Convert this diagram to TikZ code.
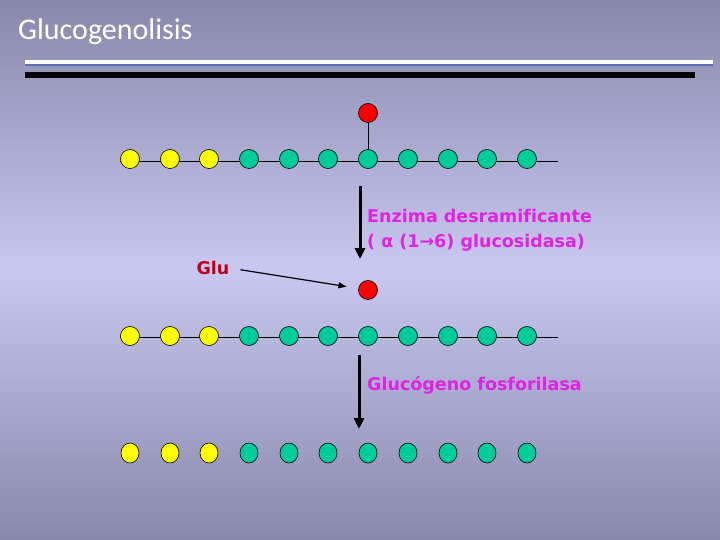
\documentclass[tikz,border=0pt]{standalone}
\usepackage{fontspec}
\setmainfont[Ligatures=NoCommon]{DejaVu Sans}
\newfontfamily\titlefont{Carlito}
\usepackage{tikz}
\usetikzlibrary{arrows.meta,positioning,calc,shapes.geometric}
\definecolor{bgtop}{RGB}{136,136,172}
\definecolor{bgmid}{RGB}{200,200,240}
\definecolor{glyellow}{RGB}{255,255,0}
\definecolor{glgreen}{RGB}{0,204,153}
\definecolor{glred}{RGB}{255,0,0}
\definecolor{enzmag}{RGB}{226,34,226}
\definecolor{gludark}{RGB}{190,0,30}
\definecolor{rulblue}{RGB}{96,112,176}

\begin{document}
\begin{tikzpicture}[
  x=1pt, y=-1pt,
  glc/.style={circle, draw=black, line width=0.6pt, minimum size=19pt, inner sep=0pt},
  enz/.style={text=enzmag, font=\bfseries\fontsize{17.5}{25}\selectfont, align=left, anchor=west, inner sep=0pt},
  bigarrow/.style={-{Triangle[width=10pt,length=11pt]}, line width=3pt}
]
\useasboundingbox (0,0) rectangle (720,540);
% background
\shade[top color=bgtop, bottom color=bgmid] (0,0) rectangle (720,270);
\shade[top color=bgmid, bottom color=bgtop] (0,270) rectangle (720,540);
% title and rules
\node[anchor=base west, text=white, font=\titlefont\fontsize{30}{33}\selectfont, inner sep=0pt] (title) at (18,40) {Glucogenolisis};
\fill[white] (25,60) rectangle (713,64);
\fill[rulblue] (25,64) rectangle (713,66.5);
\fill[black] (25,72) rectangle (695,78);
% chains
\coordinate (a0) at (120,161); \coordinate (aend) at (558,161);
\coordinate (b0) at (120,337); \coordinate (bend) at (558,337);
\draw[line width=0.8pt] (a0) -- (aend);
\draw[line width=0.8pt] (b0) -- (bend);
\foreach \i/\x in {1/130,2/170,3/209,4/249,5/289,6/328,7/368,8/408,9/448,10/487,11/527} {
  \ifnum\i<4 \def\col{glyellow}\else\def\col{glgreen}\fi
  \node[glc, fill=\col] (a\i) at (\x,159) {};
  \node[glc, fill=\col] (b\i) at (\x,336) {};
  \node[glc, ellipse, fill=\col, minimum height=20pt, minimum width=18pt] (c\i) at (\x,453) {};
}
% branch
\node[glc, fill=glred] (r1) at (368,113) {};
\draw[line width=0.8pt] (r1) -- (a7);
\node[glc, fill=glred] (r2) at (368,290) {};
% debranching step
\coordinate (s1) at (360,186); \coordinate (e1) at (360,259);
\draw[bigarrow] (s1) -- (e1);
\node[enz] (debr) at (367,230) {Enzima desramificante\\( α (1→6) glucosidasa)};
\node[text=gludark, font=\bfseries\fontsize{17.5}{20}\selectfont, inner sep=0pt] (glu) at (213,268) {Glu};
\draw[-{Triangle[width=6pt,length=8pt]}, line width=1.2pt, shorten <=11pt, shorten >=12pt] (glu.east) -- (r2);
% phosphorylase step
\coordinate (s2) at (359,355); \coordinate (e2) at (359,429);
\draw[bigarrow] (s2) -- (e2);
\node[enz] (phos) at (367,385) {Glucógeno fosforilasa};
\end{tikzpicture}
\end{document}
